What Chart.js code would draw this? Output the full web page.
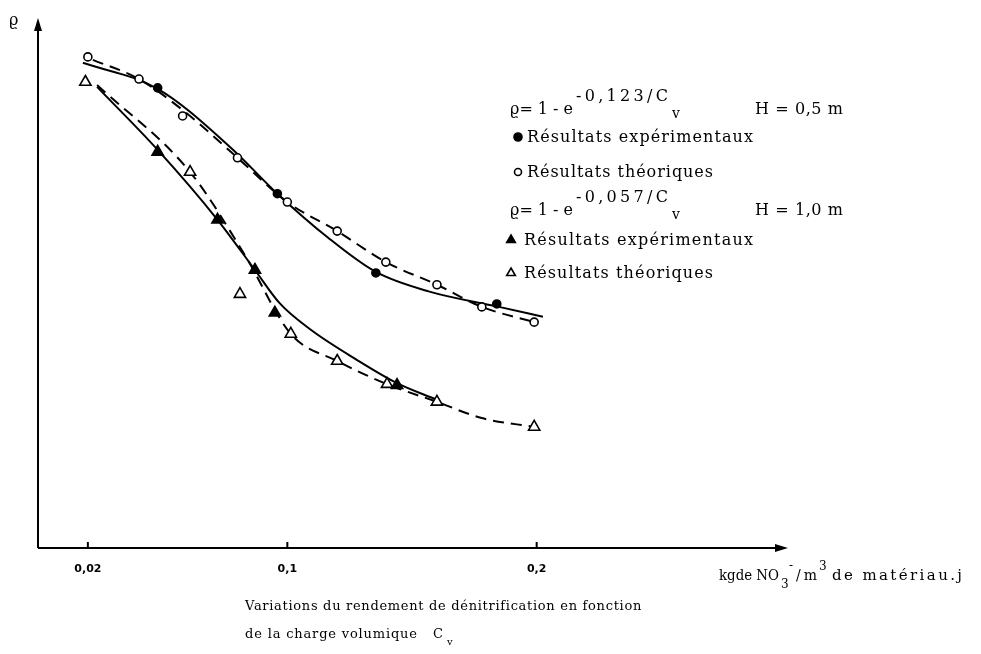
<!DOCTYPE html>
<html>
<head>
<meta charset="utf-8">
<script src="https://cdn.jsdelivr.net/npm/chart.js@4.4.0/dist/chart.umd.min.js"></script>
<style>
  html, body { margin: 0; background: #fff; }
  #wrap { width: 981px; height: 654px; }
</style>
</head>
<body>
<div id="wrap"><canvas id="chart" width="981" height="654"></canvas></div>
<script>
// x : charge volumique Cv (kg NO3-/m3 de materiau.j), y : rendement rho (no ticks drawn)
const xTicks = [0.02, 0.1, 0.2];
const xTickLabels = ['0,02', '0,1', '0,2'];

// H = 0,5 m
const upperExpX = [0.048, 0.096, 0.1355, 0.184];
const upperExpY = [0.935, 0.720, 0.559, 0.496];
const upperTheoX = [0.02, 0.0405, 0.058, 0.08, 0.10, 0.12, 0.1395, 0.16, 0.178, 0.199];
const upperTheoY = [0.998, 0.953, 0.878, 0.793, 0.703, 0.644, 0.581, 0.535, 0.490, 0.459];
const upperFitX = [0.018, 0.048, 0.077, 0.096, 0.116, 0.1355, 0.157, 0.184, 0.2025];
const upperFitY = [0.986, 0.933, 0.815, 0.720, 0.632, 0.561, 0.521, 0.491, 0.470];
const upperDashX = [0.022, 0.0405, 0.059, 0.08, 0.10, 0.12, 0.1395, 0.16, 0.178, 0.199];
const upperDashY = [0.992, 0.953, 0.886, 0.793, 0.703, 0.644, 0.581, 0.535, 0.490, 0.459];

// H = 1,0 m
const lowerExpX = [0.048, 0.072, 0.087, 0.095, 0.144];
const lowerExpY = [0.805, 0.667, 0.565, 0.478, 0.331];
const lowerTheoX = [0.019, 0.061, 0.081, 0.1014, 0.12, 0.14, 0.16, 0.199];
const lowerTheoY = [0.947, 0.764, 0.516, 0.435, 0.380, 0.333, 0.297, 0.246];
const lowerFitX = [0.0237, 0.048, 0.072, 0.087, 0.097, 0.109, 0.128, 0.144, 0.16];
const lowerFitY = [0.937, 0.809, 0.667, 0.565, 0.497, 0.445, 0.382, 0.335, 0.301];
const lowerDashX = [0.0237, 0.061, 0.083, 0.1014, 0.12, 0.14, 0.16, 0.178, 0.199];
const lowerDashY = [0.941, 0.764, 0.595, 0.435, 0.380, 0.333, 0.297, 0.264, 0.246];

const SERIF = '"DejaVu Serif", serif';
const SANS = '"DejaVu Sans", sans-serif';

function pts(xs, ys) {
    return xs.map((x, i) => ({ x: x, y: ys[i] }));
}

function lineSet(xs, ys, dashed) {
    return {
        data: pts(xs, ys),
        showLine: true,
        borderColor: '#000',
        borderWidth: 2,
        borderDash: dashed ? [11, 7] : [],
        pointRadius: 0,
        cubicInterpolationMode: 'monotone',
        order: 2
    };
}

function markSet(xs, ys, style, filled, radius) {
    return {
        data: pts(xs, ys),
        showLine: false,
        pointStyle: style,
        pointRadius: radius,
        pointBorderWidth: 1.6,
        pointBorderColor: '#000',
        pointBackgroundColor: filled ? '#000' : '#fff',
        order: 1
    };
}

// text spread (letter spacing) or squeezed to the width seen in the picture
function txt(ctx, s, x, y, size, width, font, bold) {
    ctx.font = (bold ? 'bold ' : '') + size + 'px ' + (font || SERIF);
    ctx.letterSpacing = '0px';
    const m = ctx.measureText(s).width;
    ctx.save();
    ctx.translate(x, y);
    if (width && s.length > 1 && width > m && 'letterSpacing' in ctx) {
        ctx.letterSpacing = ((width - m) / (s.length - 1)) + 'px';
    } else if (width) {
        ctx.scale(width / m, 1);
    }
    ctx.fillText(s, 0, 0);
    ctx.restore();
}

function marker(ctx, style, filled, x, y, r) {
    ctx.fillStyle = filled ? '#000' : '#fff';
    ctx.strokeStyle = '#000';
    ctx.lineWidth = 1.6;
    Chart.helpers.drawPoint(ctx, { pointStyle: style, radius: r, borderWidth: 1.6, rotation: 0 }, x, y);
    ctx.fillStyle = '#000';
}

function formula(ctx, y, expo, hText) {
    txt(ctx, '\u03F1= 1 - e', 510, y, 16, 63);
    txt(ctx, expo, 576, y - 13, 16, 92);
    txt(ctx, 'v', 672, y + 4, 14, 0);
    txt(ctx, hText, 755, y, 16, 88);
}

const decor = {
    id: 'decor',
    afterDraw(chart) {
        const ctx = chart.ctx;
        const xs = chart.scales.x;
        const ys = chart.scales.y;
        const x0 = xs.getPixelForValue(0);
        const y0 = ys.getPixelForValue(0);
        const yTop = ys.getPixelForValue(ys.max);
        const xEnd = xs.getPixelForValue(xs.max);

        ctx.save();
        ctx.strokeStyle = '#000';
        ctx.fillStyle = '#000';
        ctx.lineWidth = 2;
        ctx.lineCap = 'butt';

        // axes
        ctx.beginPath();
        ctx.moveTo(x0, y0);
        ctx.lineTo(x0, yTop + 8);
        ctx.moveTo(x0, y0);
        ctx.lineTo(xEnd - 6, y0);
        ctx.stroke();

        // arrow heads
        ctx.beginPath();
        ctx.moveTo(x0, yTop - 2);
        ctx.lineTo(x0 - 4, yTop + 11);
        ctx.lineTo(x0 + 4, yTop + 11);
        ctx.closePath();
        ctx.fill();
        ctx.beginPath();
        ctx.moveTo(xEnd + 2, y0);
        ctx.lineTo(xEnd - 11, y0 - 4);
        ctx.lineTo(xEnd - 11, y0 + 4);
        ctx.closePath();
        ctx.fill();

        // ticks and their labels
        ctx.textAlign = 'left';
        xTicks.forEach((v, i) => {
            const px = xs.getPixelForValue(v);
            ctx.beginPath();
            ctx.moveTo(px, y0);
            ctx.lineTo(px, y0 - 6);
            ctx.stroke();
            ctx.font = 'bold 11px ' + SANS;
            const w = ctx.measureText(xTickLabels[i]).width;
            ctx.fillText(xTickLabels[i], px - w / 2, 572);
        });

        // axis names
        txt(ctx, '\u03F1', 9, 25, 16, 0);
        txt(ctx, 'kgde NO', 719, 580, 14, 60);
        txt(ctx, '3', 781, 588, 12, 0);
        txt(ctx, '-', 789, 569, 12, 0);
        txt(ctx, '/m', 796, 580, 14, 21);
        txt(ctx, '3', 819, 570, 12, 0);
        txt(ctx, 'de mat\u00E9riau.j', 832, 580, 15, 130);

        // legend
        formula(ctx, 114, '-0,123/C', 'H = 0,5 m');
        marker(ctx, 'circle', true, 518, 137, 4);
        txt(ctx, 'R\u00E9sultats exp\u00E9rimentaux', 527, 142, 16, 226);
        marker(ctx, 'circle', false, 518, 172, 3.5);
        txt(ctx, 'R\u00E9sultats th\u00E9oriques', 527, 177, 16, 186);
        formula(ctx, 215, '-0,057/C', 'H = 1,0 m');
        marker(ctx, 'triangle', true, 511, 240, 5);
        txt(ctx, 'R\u00E9sultats exp\u00E9rimentaux', 524, 245, 16, 229);
        marker(ctx, 'triangle', false, 511, 273, 5);
        txt(ctx, 'R\u00E9sultats th\u00E9oriques', 524, 278, 16, 189);

        // caption
        txt(ctx, 'Variations du rendement de d\u00E9nitrification en fonction', 245, 610, 13, 396);
        txt(ctx, 'de la charge volumique', 245, 638, 13, 172);
        txt(ctx, 'C', 433, 638, 13, 0);
        txt(ctx, 'v', 447, 645, 10, 0);

        ctx.restore();
    }
};

new Chart(document.getElementById('chart'), {
    type: 'scatter',
    data: {
        datasets: [
            markSet(upperExpX, upperExpY, 'circle', true, 4),
            markSet(upperTheoX, upperTheoY, 'circle', false, 4),
            markSet(lowerExpX, lowerExpY, 'triangle', true, 6.5),
            markSet(lowerTheoX, lowerTheoY, 'triangle', false, 6.5),
            lineSet(upperFitX, upperFitY, false),
            lineSet(upperDashX, upperDashY, true),
            lineSet(lowerFitX, lowerFitY, false),
            lineSet(lowerDashX, lowerDashY, true)
        ]
    },
    options: {
        responsive: false,
        animation: false,
        devicePixelRatio: 1,
        layout: { padding: { left: 38, right: 195, top: 20, bottom: 106 } },
        scales: {
            x: { type: 'linear', min: 0, max: 0.3, display: false },
            y: { type: 'linear', min: 0, max: 1.073, display: false }
        },
        plugins: {
            legend: { display: false },
            tooltip: { enabled: false }
        }
    },
    plugins: [decor]
});
</script>
</body>
</html>
